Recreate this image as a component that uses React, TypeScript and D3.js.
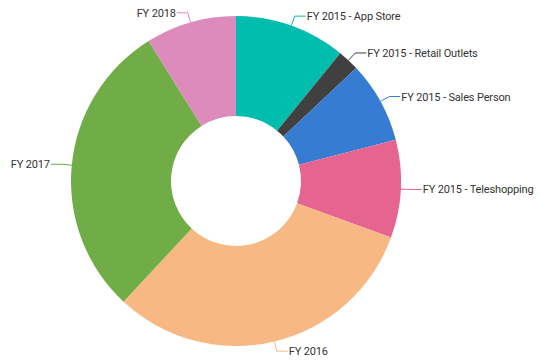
import React, { useEffect, useRef } from 'react';
import * as d3 from 'd3';

const categories = [
  'FY 2015 - App Store',
  'FY 2015 - Retail Outlets',
  'FY 2015 - Sales Person',
  'FY 2015 - Teleshopping',
  'FY 2016',
  'FY 2017',
  'FY 2018',
];
const values = [10.9, 2.1, 8.0, 9.6, 31.4, 29.2, 8.9];
const colors = ['#00bdae', '#404041', '#357cd2', '#e56590', '#f8b883', '#70ad47', '#dd8abd'];

type Slice = { label: string; value: number; color: string };

const App: React.FC = () => {
  const ref = useRef<SVGSVGElement>(null);

  useEffect(() => {
    if (!ref.current) return;
    const svg = d3.select(ref.current);
    svg.selectAll('*').remove();

    const cx = 236;
    const cy = 181;
    const outer = 165;
    const inner = 65;
    const lineOut = 175;
    const hLen = 11;

    const data: Slice[] = categories.map((c, i) => ({ label: c, value: values[i], color: colors[i] }));

    const pie = d3
      .pie<Slice>()
      .sort(null)
      .value((d) => d.value);
    const arcs = pie(data);

    const arc = d3.arc<d3.PieArcDatum<Slice>>().innerRadius(inner).outerRadius(outer);

    const g = svg.append('g').attr('transform', `translate(${cx}, ${cy})`);

    g.selectAll('path.slice')
      .data(arcs)
      .enter()
      .append('path')
      .attr('class', 'slice')
      .attr('d', arc)
      .attr('fill', (d) => d.data.color);

    const mid = (d: d3.PieArcDatum<Slice>) => (d.startAngle + d.endAngle) / 2;
    const pt = (a: number, r: number) => [Math.sin(a) * r, -Math.cos(a) * r];

    // leader lines: radial tick then a short horizontal run
    g.selectAll('path.leader')
      .data(arcs)
      .enter()
      .append('path')
      .attr('class', 'leader')
      .attr('fill', 'none')
      .attr('stroke', (d) => d.data.color)
      .attr('stroke-width', 1)
      .attr('d', (d) => {
        const a = mid(d);
        const [x0, y0] = pt(a, outer);
        const [x1, y1] = pt(a, lineOut);
        const dir = Math.sin(a) >= 0 ? 1 : -1;
        return `M${x0},${y0}L${x1},${y1}L${x1 + dir * hLen},${y1}`;
      });

    g.selectAll('text.label')
      .data(arcs)
      .enter()
      .append('text')
      .attr('class', 'label')
      .attr('x', (d) => {
        const a = mid(d);
        const [x1] = pt(a, lineOut);
        const dir = Math.sin(a) >= 0 ? 1 : -1;
        return x1 + dir * (hLen + 1);
      })
      .attr('y', (d) => pt(mid(d), lineOut)[1])
      .attr('dy', '0.36em')
      .attr('text-anchor', (d) => (Math.sin(mid(d)) >= 0 ? 'start' : 'end'))
      .style('font-family', 'Roboto, sans-serif')
      .style('font-size', '11px')
      .style('letter-spacing', '-0.15px')
      .style('fill', '#333')
      .text((d) => d.data.label);
  }, []);

  return (
    <svg
      ref={ref}
      width={541}
      height={362}
      style={{ position: 'absolute', left: 0, top: 0, background: '#fff' }}
    />
  );
};

export default App;
